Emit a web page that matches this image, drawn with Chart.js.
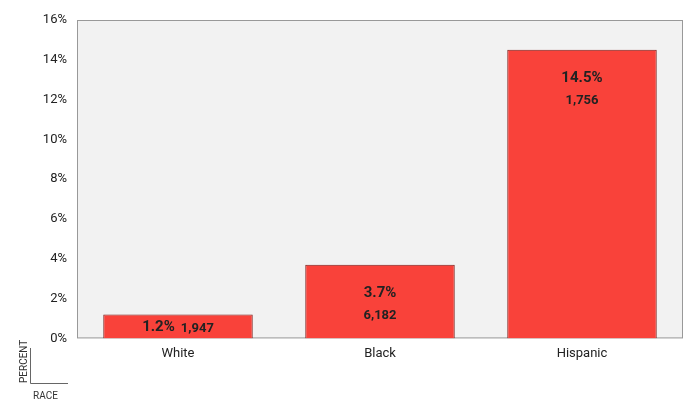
<!DOCTYPE html>
<html><head><meta charset="utf-8">
<script src="https://cdn.jsdelivr.net/npm/chart.js@4"></script>
<style>body{margin:0;background:#fff}#w{width:700px;height:420px}</style>
</head><body><div id="w"><canvas id="c"></canvas></div>
<script>
const categories=["White","Black","Hispanic"];
const percents=[1.2,3.7,14.5];
const counts=["1,947","6,182","1,756"];
const FONT="'Liberation Sans Narrow','Roboto',sans-serif";
const bg={id:'bg',beforeDraw(ch){const a=ch.chartArea,x=ch.ctx;x.save();x.fillStyle='#f2f2f2';x.fillRect(a.left,a.top,a.right-a.left,a.bottom-a.top);x.strokeStyle='#999';x.lineWidth=1;x.strokeRect(a.left+.5,a.top+.5,a.right-a.left-1,a.bottom-a.top-1);x.restore();},
afterDraw(ch){const x=ch.ctx,m=ch.getDatasetMeta(0);x.save();x.fillStyle='#222';x.textAlign='center';x.textBaseline='middle';
m.data.forEach((b,i)=>{if(percents[i]<2){x.font="bold 15px "+FONT;const t1=percents[i].toFixed(1)+'%';const w1=x.measureText(t1).width;x.font="bold 13px "+FONT;const w2=x.measureText(counts[i]).width;const tw=w1+6+w2;let sx=b.x-tw/2;x.textAlign='left';x.font="bold 15px "+FONT;x.fillText(t1,sx,(b.y+b.base)/2+1);x.font="bold 13px "+FONT;x.fillText(counts[i],sx+w1+6,(b.y+b.base)/2+2);x.textAlign='center';}
else{x.font="bold 15px "+FONT;x.fillText(percents[i].toFixed(1)+'%',b.x,b.y+28);x.font="bold 13px "+FONT;x.fillText(counts[i],b.x,b.y+51);}});
x.strokeStyle='#666';x.lineWidth=1;x.beginPath();x.moveTo(30.5,348);x.lineTo(30.5,383.5);x.lineTo(68,383.5);x.stroke();
x.font="10px "+FONT;x.fillStyle='#333';x.textAlign='left';x.fillText('RACE',33,396);
x.translate(24,383);x.rotate(-Math.PI/2);x.fillText('PERCENT',0,0);x.restore();}};
new Chart(document.getElementById('c'),{type:'bar',
data:{labels:categories,datasets:[{data:percents,backgroundColor:'#f9423a',borderColor:'#7a1d18',borderWidth:1,barPercentage:0.74,categoryPercentage:1}]},
options:{responsive:true,maintainAspectRatio:false,animation:false,
layout:{padding:{top:20,right:17,left:0,bottom:50}},
plugins:{legend:{display:false},tooltip:{enabled:false}},
scales:{x:{grid:{display:false,drawTicks:false},border:{display:false},ticks:{color:'#222',font:{family:FONT,size:13},padding:8}},
y:{min:0,max:16,afterFit(s){s.width=77;},grid:{display:false,drawTicks:false},border:{display:false},ticks:{stepSize:2,color:'#222',font:{family:FONT,size:13},padding:10,callback:v=>v+'%'}}}},
plugins:[bg]});
</script></body></html>
